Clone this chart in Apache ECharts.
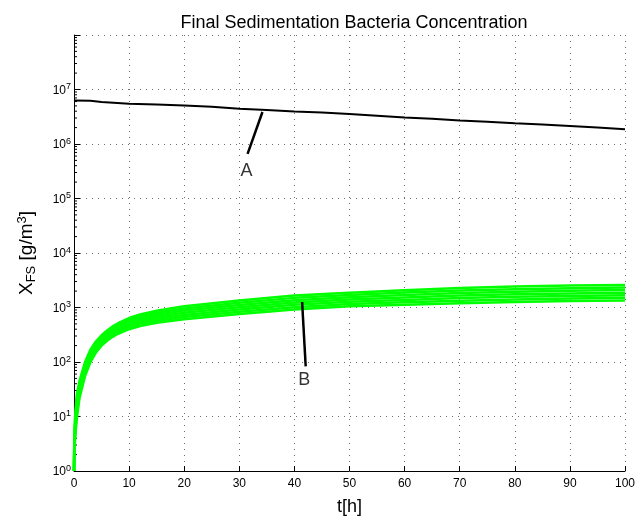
<!DOCTYPE html>
<html>
<head>
<meta charset="utf-8">
<script src="https://cdn.jsdelivr.net/npm/echarts@6/dist/echarts.min.js"></script>
<style>
  html, body { margin: 0; padding: 0; background: #fff; }
  #chart { width: 639px; height: 516px; }
</style>
</head>
<body>
<div id="chart"></div>
<script>
// time grid of the green runs [h]
var tGreen = [0, 0.05, 0.2, 0.5, 1, 2, 3, 4, 5, 6, 7, 8, 10, 12, 15, 20, 30, 40, 50, 60, 70, 80, 90, 100];
var runB1 = [1, 2.0, 4.0, 9.0, 22, 55, 100, 150, 200, 245, 290, 330, 400, 455, 525, 610, 760, 920, 1050, 1120, 1200, 1260, 1310, 1350];
var runB2 = [1, 2.2, 4.7, 10.7, 25, 61, 109, 162, 215, 264, 312, 355, 432, 494, 571, 668, 836, 1015, 1155, 1242, 1337, 1405, 1461, 1505];
var runB3 = [1, 2.5, 5.4, 12.7, 28, 67, 119, 175, 232, 284, 336, 383, 467, 537, 622, 731, 920, 1119, 1270, 1377, 1489, 1567, 1629, 1678];
var runB4 = [1, 2.8, 6.3, 15.0, 31, 74, 130, 190, 249, 305, 361, 412, 505, 583, 676, 801, 1012, 1235, 1397, 1527, 1659, 1747, 1816, 1871];
var runB5 = [1, 3.2, 7.4, 17.8, 35, 82, 142, 205, 268, 329, 389, 444, 546, 633, 736, 877, 1113, 1362, 1537, 1693, 1848, 1948, 2025, 2086];
var runB6 = [1, 3.6, 8.6, 21.1, 40, 91, 156, 222, 288, 354, 418, 478, 590, 687, 800, 960, 1224, 1502, 1690, 1877, 2058, 2172, 2258, 2326];
var runB7 = [1, 4.0, 10.0, 25.0, 45, 100, 170, 240, 310, 380, 450, 515, 640, 745, 870, 1050, 1350, 1660, 1860, 2080, 2290, 2420, 2520, 2600];
var greenRuns = [runB1, runB2, runB3, runB4, runB5, runB6, runB7];

// black run (A)
var tBlack = [0, 3, 5, 10, 15, 20, 25, 30, 35, 40, 45, 50, 55, 60, 65, 70, 75, 80, 85, 90, 95, 100];
var runA = [6.3e6, 6.2e6, 5.9e6, 5.5e6, 5.3e6, 5.1e6, 4.8e6, 4.45e6, 4.2e6, 3.95e6, 3.8e6, 3.55e6, 3.3e6, 3.05e6, 2.9e6, 2.7e6, 2.55e6, 2.4e6, 2.27e6, 2.13e6, 2.0e6, 1.86e6];

// annotation pointers: [t, value] from the curve to the letter
var pointerA = [[34.2, 3.86e6], [31.5, 6.6e5]];
var pointerB = [[41.4, 1260], [42.05, 83]];
var letterA = [31.3, 3.2e5];
var letterB = [41.8, 47];

var xTicks = [0, 10, 20, 30, 40, 50, 60, 70, 80, 90, 100];
var yMinorTicks = [];
[1, 10, 100, 1e3, 1e4, 1e5, 1e6, 1e7].forEach(function (d) {
    [2, 3, 4, 5, 6, 7, 8, 9].forEach(function (m) { yMinorTicks.push(d * m); });
});

var font = 'Liberation Sans, Arial, Helvetica, sans-serif';
var gridDots = { color: '#6f6f6f', width: 1, type: [1, 5] };

function pairs(ts, vs) {
    return ts.map(function (t, i) { return [t, vs[i]]; });
}

var series = greenRuns.map(function (run, i) {
    return {
        name: 'B' + (i + 1),
        type: 'line',
        data: pairs(tGreen, run),
        showSymbol: false,
        lineStyle: { color: '#00ff00', width: 2.5, join: 'round' },
        silent: true
    };
});

series.push({
    name: 'A',
    type: 'line',
    data: pairs(tBlack, runA),
    showSymbol: false,
    lineStyle: { color: '#000', width: 2 },
    silent: true
});

[pointerA, pointerB].forEach(function (p) {
    series.push({
        type: 'line',
        data: p,
        showSymbol: false,
        lineStyle: { color: '#000', width: 2.5 },
        silent: true
    });
});

series.push({
    type: 'scatter',
    symbolSize: 0,
    data: [
        { value: letterA, name: 'A' },
        { value: letterB, name: 'B' }
    ],
    label: {
        show: true,
        position: 'inside',
        formatter: '{b}',
        color: '#000',
        fontSize: 18,
        fontFamily: font
    },
    silent: true
});

// minor log ticks on the y axis (2..9 per decade)
series.push({
    type: 'custom',
    silent: true,
    data: yMinorTicks.map(function (v) { return [0, v]; }),
    renderItem: function (params, api) {
        var p = api.coord([api.value(0), api.value(1)]);
        return {
            type: 'line',
            shape: { x1: p[0], y1: p[1], x2: p[0] + 3, y2: p[1] },
            style: { stroke: '#000', lineWidth: 1 }
        };
    }
});

var chart = echarts.init(document.getElementById('chart'), null, { renderer: 'canvas' });

chart.setOption({
    animation: false,
    backgroundColor: '#fff',
    title: {
        text: 'Final Sedimentation Bacteria Concentration',
        left: 349,
        textAlign: 'center',
        top: 9,
        textStyle: { fontFamily: font, fontSize: 18, fontWeight: 'normal', color: '#000' }
    },
    grid: { left: 74, right: 14, top: 35, bottom: 45, outerBoundsMode: 'none' },
    xAxis: {
        type: 'value',
        min: 0,
        max: 100,
        interval: 10,
        name: 't[h]',
        nameLocation: 'middle',
        nameGap: 27,
        nameTextStyle: { fontFamily: font, fontSize: 18, color: '#000' },
        axisLine: { lineStyle: { color: '#000', width: 1 } },
        axisTick: { inside: true, length: 5, lineStyle: { color: '#000' } },
        axisLabel: {
            margin: 7,
            fontFamily: font,
            fontSize: 12,
            color: '#000',
            formatter: function (v) { return xTicks.indexOf(v) >= 0 ? String(v) : ''; }
        },
        splitLine: { show: true, lineStyle: gridDots }
    },
    yAxis: {
        type: 'log',
        logBase: 10,
        min: 1,
        max: 1e8,
        splitNumber: 8,
        name: 'X{sub|FS} [g/m{sup|3}]',
        nameLocation: 'middle',
        nameGap: 36,
        nameTextStyle: {
            fontFamily: font,
            fontSize: 19,
            color: '#000',
            rich: {
                sub: { fontFamily: font, fontSize: 13, color: '#000', padding: [9, 0, 0, 0] },
                sup: { fontFamily: font, fontSize: 13, color: '#000', padding: [0, 0, 9, 0] }
            }
        },
        axisLine: { show: true, lineStyle: { color: '#000', width: 1 } },
        axisTick: { inside: true, length: 6, lineStyle: { color: '#000' } },
        minorTick: { show: false },
        axisLabel: {
            margin: 3,
            fontFamily: font,
            color: '#000',
            formatter: function (v) {
                var e = Math.round(Math.log10(v));
                if (e >= 8) return '';
                return '{b|10}{s|' + e + '}';
            },
            rich: {
                b: { fontFamily: font, fontSize: 12, color: '#000', lineHeight: 14, padding: [2, 0, 0, 0] },
                s: { fontFamily: font, fontSize: 9, color: '#000', lineHeight: 9, verticalAlign: 'top' }
            }
        },
        splitLine: { show: true, lineStyle: gridDots }
    },
    series: series
});
</script>
</body>
</html>
